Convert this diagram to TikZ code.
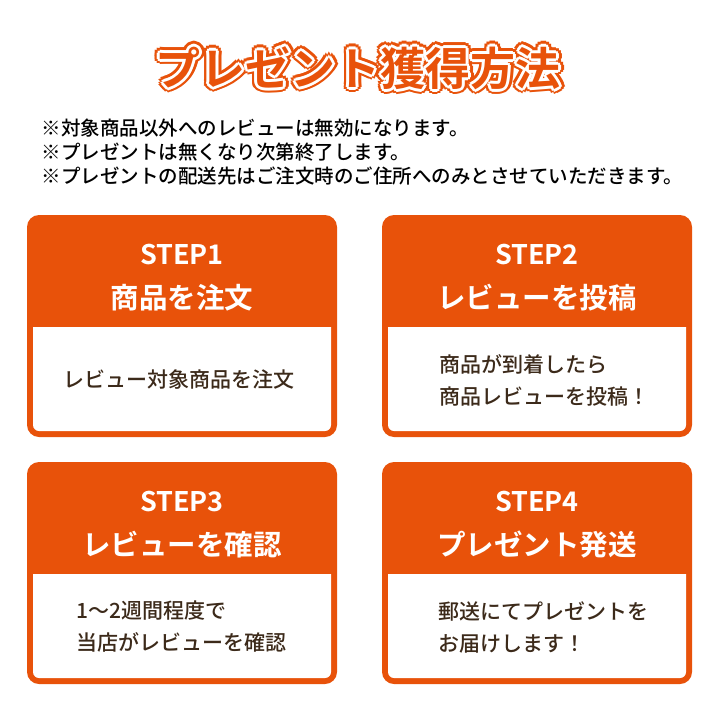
\documentclass[tikz,border=0pt]{standalone}
\usepackage{fontspec}
\usetikzlibrary{calc}
\newfontfamily\cjk{Noto Sans CJK JP}[BoldFont={Noto Sans CJK JP Bold}]
\newfontfamily\cjkm{Noto Sans CJK JP Medium}
\definecolor{org}{HTML}{E8520A}
\definecolor{brn}{HTML}{3C2A1A}
\begin{document}
\begin{tikzpicture}[x=1pt,y=-1pt,
  card/.style={fill=org,rounded corners=12pt},
  inner/.style={fill=white,rounded corners=6pt},
  stepl/.style={text=white,font=\cjk\bfseries\fontsize{27}{30}\selectfont},
  head/.style={text=white,font=\cjk\bfseries\fontsize{28.5}{30}\selectfont},
  body/.style={text=brn,font=\cjkm\fontsize{21}{32}\selectfont,align=left,anchor=west},
  note/.style={text=black,font=\cjkm\fontsize{19.5}{20}\selectfont,anchor=west}]
\useasboundingbox (0,0) rectangle (720,720);
\fill[white] (0,0) rectangle (720,720);
% title
\def\ttl{\cjk\bfseries\fontsize{45}{48}\selectfont プレゼント獲得方法}
\foreach \a in {0,30,...,359}{\node[text=org] at ($(358,68)+(\a:5.5)$) {\ttl};}
\foreach \a in {0,45,...,359}{\node[text=white] at ($(358,68)+(\a:3)$) {\ttl};}
\node[text=org] (title) at (358,68) {\ttl};
\node[note] (n1) at (38,128) {※対象商品以外へのレビューは無効になります。};
\node[note] (n2) at (38,152) {※プレゼントは無くなり次第終了します。};
\node[note] (n3) at (38,176) {※プレゼントの配送先はご注文時のご住所へのみとさせていただきます。};
% cards
\foreach \x/\y/\s/\h/\b/\bx [count=\i] in {
 27/215/STEP1/商品を注文/{レビュー対象商品を注文}/33,
 382/215/STEP2/レビューを投稿/{商品が到着したら\\商品レビューを投稿！}/54,
 27/462/STEP3/レビューを確認/{1～2週間程度で\\当店がレビューを確認}/46,
 382/462/STEP4/プレゼント発送/{郵送にてプレゼントを\\お届けします！}/53}{
 \fill[card] (\x,\y) rectangle ++(310,222);
 \fill[inner] (\x+6,\y+112) [sharp corners] -- ++(298,0) [rounded corners=6pt] -- ++(0,104) -- ++(-298,0) [sharp corners] -- cycle;
 \node[stepl] (s\i) at (\x+155,\y+40) {\s};
 \node[head] (h\i) at (\x+155,\y+83) {\h};
 \node[body] (b\i) at (\x+\bx,\y+165) {\b};
}
\end{tikzpicture}
\end{document}
